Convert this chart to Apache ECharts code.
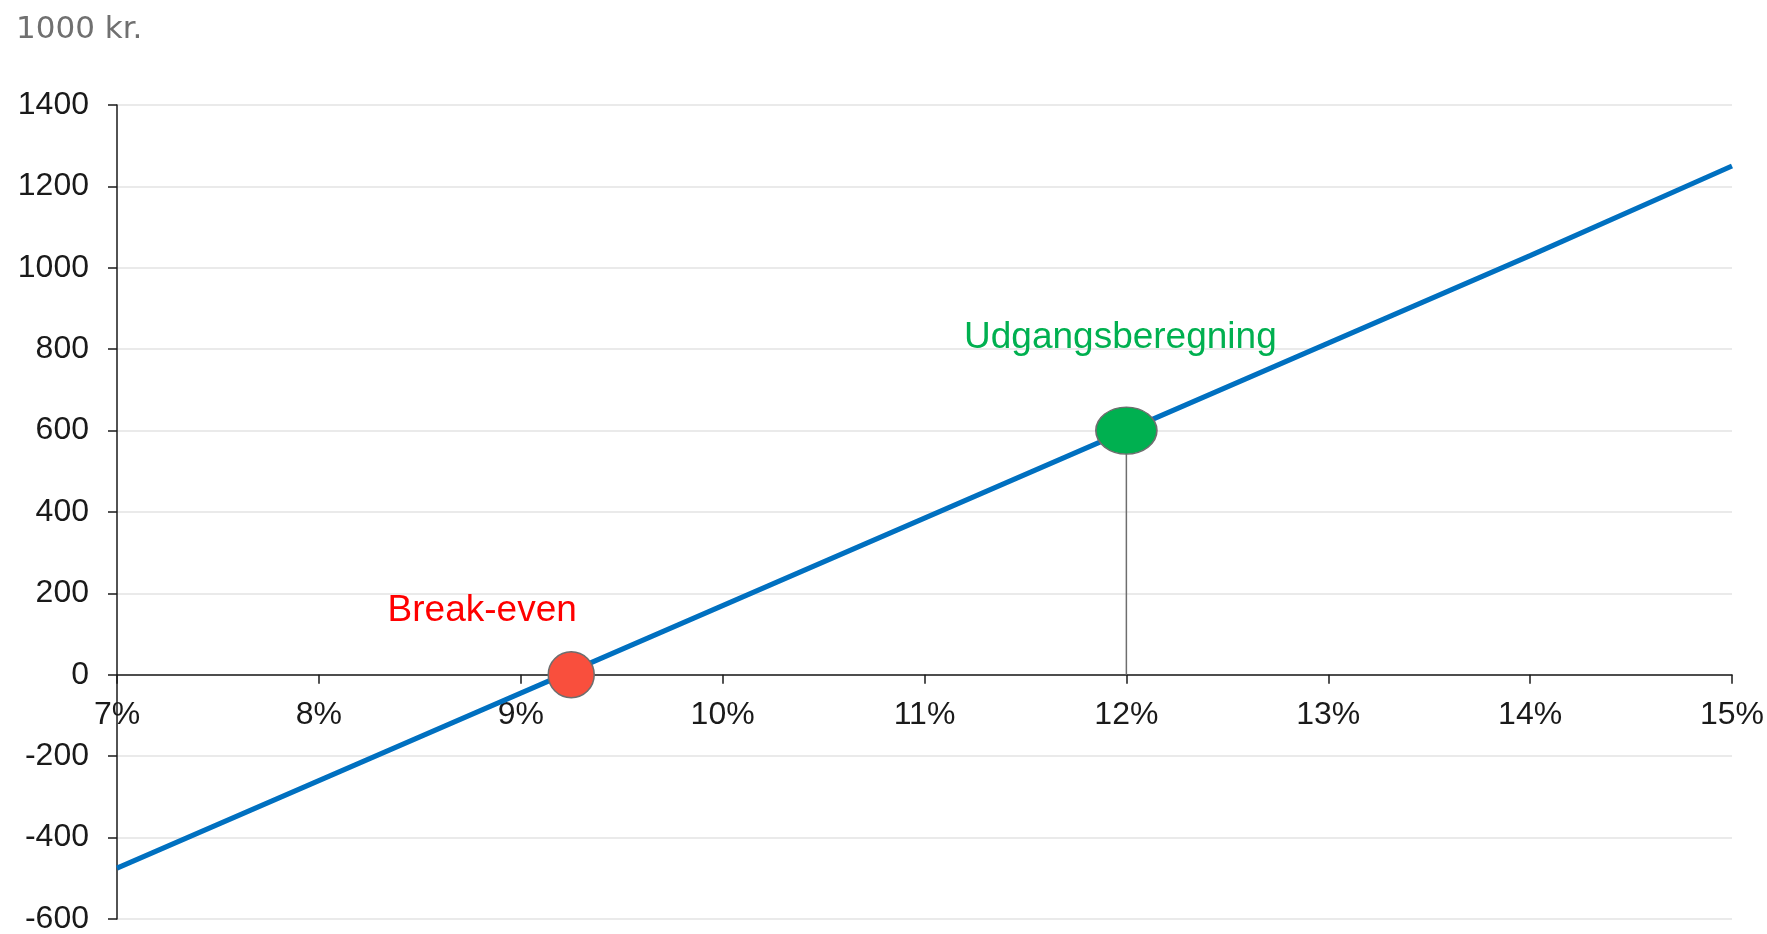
<!DOCTYPE html>
<html>
<head>
<meta charset="utf-8">
<script src="https://cdn.jsdelivr.net/npm/echarts@6/dist/echarts.min.js"></script>
<style>
html,body{margin:0;padding:0;background:#fff;}
#chart{width:1767px;height:934px;}
</style>
</head>
<body>
<div id="chart"></div>
<script>
// Data
const xValues = [7, 8, 9, 10, 11, 12, 13, 14, 15];          // rate in %
const yValues = [-475, -260, -45, 170, 385, 600, 815, 1030, 1250]; // 1000 kr.
const pointNames = ['Break-even', 'Udgangsberegning'];
const pointX = [9.25, 12];
const pointY = [0, 600];
const unitLabel = '1000 kr.';
const yTicks = { min: -600, max: 1400, step: 200 };
const xTicks = { min: 7, max: 15, step: 1 };

const FONT = '"Liberation Sans", Arial, sans-serif';
const GRID = { left: 117, right: 35, top: 105, bottom: 15 };
const chartH = 934;
// move the x axis up to the zero line of the y axis
const plotH = chartH - GRID.top - GRID.bottom;
const zeroOffset = -plotH * (0 - yTicks.min) / (yTicks.max - yTicks.min);

const chart = echarts.init(document.getElementById('chart'));

const lineData = xValues.map((x, i) => [x, yValues[i]]);
const pointStyles = [
  { color: '#F94F3D', size: 46, labelColor: '#FF0000', offset: [-89, -64] },
  { color: '#00B050', size: [61, 47], labelColor: '#00B050', offset: [-6, -93] }
];
const scatterData = pointNames.map((n, i) => ({
  name: n,
  value: [pointX[i], pointY[i]],
  symbolSize: pointStyles[i].size,
  itemStyle: { color: pointStyles[i].color, borderColor: '#6e6e6e', borderWidth: 1.5, opacity: 1 },
  label: {
    show: true, formatter: n, position: 'inside', offset: pointStyles[i].offset,
    color: pointStyles[i].labelColor, fontSize: 37, fontFamily: FONT, opacity: 1
  }
}));

chart.setOption({
  animation: false,
  textStyle: { fontFamily: FONT },
  title: {
    text: unitLabel, left: 11, top: 9,
    textStyle: { fontSize: 31, fontWeight: 'normal', color: '#707070', fontFamily: '"DejaVu Sans", Verdana, sans-serif' }
  },
  grid: Object.assign({ containLabel: false, outerBoundsMode: 'none' }, GRID),
  xAxis: {
    type: 'value', min: xTicks.min, max: xTicks.max, interval: xTicks.step,
    position: 'bottom', offset: zeroOffset,
    axisLine: { show: true, onZero: false, lineStyle: { color: '#1a1a1a', width: 1.5 } },
    axisTick: { show: true, inside: false, length: 9, lineStyle: { color: '#1a1a1a', width: 1.5 } },
    axisLabel: { formatter: v => v + '%', fontSize: 32, color: '#1a1a1a', margin: 24, fontFamily: FONT },
    splitLine: { show: false }
  },
  yAxis: {
    type: 'value', min: yTicks.min, max: yTicks.max, interval: yTicks.step,
    axisLine: { show: true, onZero: false, lineStyle: { color: '#1a1a1a', width: 1.5 } },
    axisTick: { show: true, inside: false, length: 9, lineStyle: { color: '#1a1a1a', width: 1.5 } },
    axisLabel: { formatter: v => String(v), fontSize: 32, color: '#1a1a1a', margin: 28, fontFamily: FONT },
    splitLine: { show: true, lineStyle: { color: '#e3e3e3', width: 1.5 } }
  },
  series: [
    {
      type: 'line', data: lineData, symbol: 'none', z: 3,
      lineStyle: { color: '#0070C0', width: 5 }
    },
    {
      type: 'line', data: [[pointX[1], pointY[1]], [pointX[1], 0]], symbol: 'none', z: 2,
      lineStyle: { color: '#6e6e6e', width: 1.5 }, silent: true
    },
    {
      type: 'scatter', data: scatterData, z: 5
    }
  ]
});
</script>
</body>
</html>
